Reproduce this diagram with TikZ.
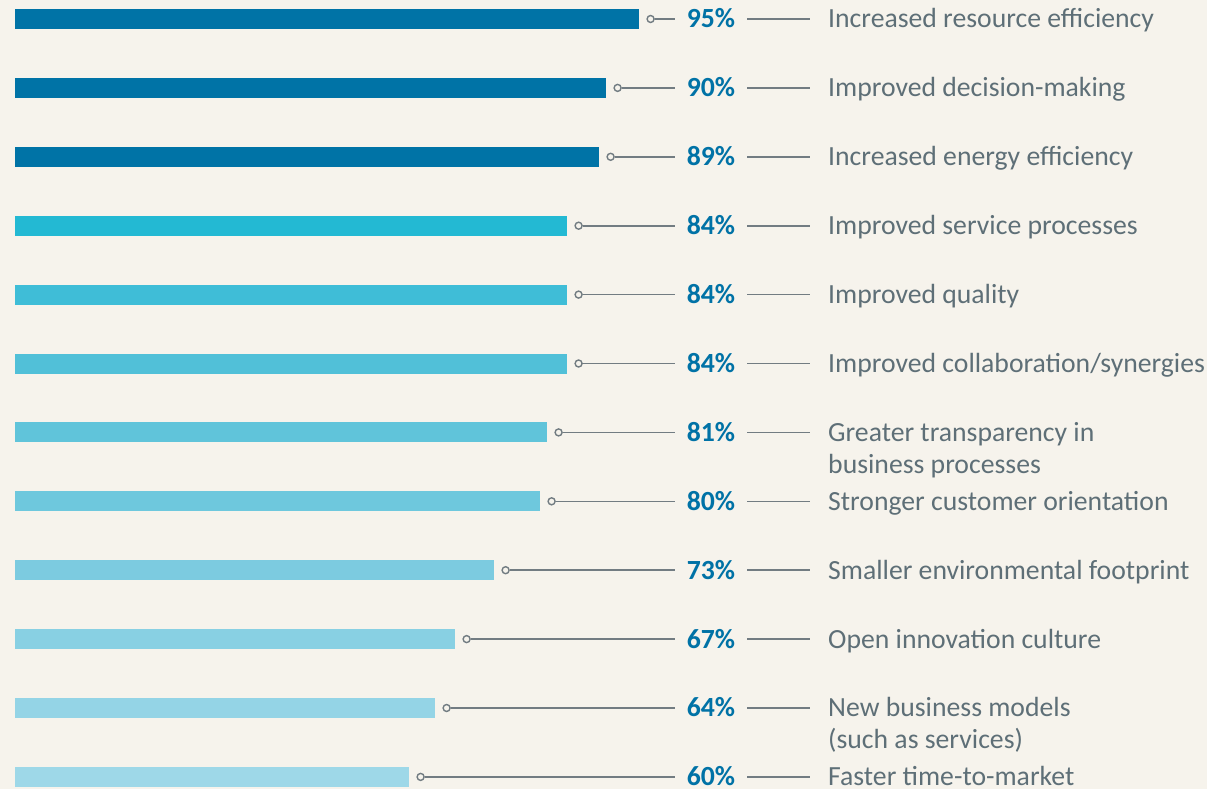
\documentclass[tikz,border=0pt]{standalone}
\usepackage{fontspec}
\setmainfont{Carlito}
\usetikzlibrary{positioning}

\definecolor{bgcream}{HTML}{F6F3EC}
\definecolor{linegray}{HTML}{727C82}
\definecolor{labelgray}{HTML}{5E6F77}
\definecolor{pctblue}{HTML}{0072A6}
\definecolor{barA}{HTML}{0073A6}
\definecolor{barB}{HTML}{23B9D3}
\definecolor{barC}{HTML}{3FBDD7}
\definecolor{barD}{HTML}{51C0D8}
\definecolor{barE}{HTML}{60C4DA}
\definecolor{barF}{HTML}{6EC8DD}
\definecolor{barG}{HTML}{7CCBE0}
\definecolor{barH}{HTML}{88D0E3}
\definecolor{barI}{HTML}{94D4E6}
\definecolor{barJ}{HTML}{9ED8E8}

\begin{document}
\begin{tikzpicture}[
  x=1pt, y=-1pt,
  bar/.style={rectangle, anchor=west, minimum height=20pt, inner sep=0pt},
  dot/.style={circle, draw=linegray, fill=bgcream, line width=1.4pt, minimum size=7pt, inner sep=0pt},
  pct/.style={font=\fontsize{27.7}{34}\selectfont\bfseries, text=pctblue, text height=17.8pt, text depth=0pt, inner xsep=12pt, inner ysep=0pt},
  lbl/.style={font=\fontsize{27.7}{34}\selectfont, text=labelgray, anchor=west, text height=17.8pt, text depth=0pt, inner xsep=18pt, inner ysep=0pt},
  lead/.style={draw=linegray, line width=1.6pt}
]

% --- Background and frame ---
\fill[bgcream] (0,0) rectangle (1207,789);
\useasboundingbox (0,0) rectangle (1207,789);

% --- Bars ---
\node[bar, fill=barA, minimum width=624pt] (b1) at (15,19) {};
\node[bar, fill=barA, minimum width=591pt] (b2) at (15,87.9) {};
\node[bar, fill=barA, minimum width=584pt] (b3) at (15,156.8) {};
\node[bar, fill=barB, minimum width=552pt] (b4) at (15,225.7) {};
\node[bar, fill=barC, minimum width=552pt] (b5) at (15,294.6) {};
\node[bar, fill=barD, minimum width=552pt] (b6) at (15,363.5) {};
\node[bar, fill=barE, minimum width=532pt] (b7) at (15,432.4) {};
\node[bar, fill=barF, minimum width=525pt] (b8) at (15,501.3) {};
\node[bar, fill=barG, minimum width=479pt] (b9) at (15,570.2) {};
\node[bar, fill=barH, minimum width=440pt] (b10) at (15,639.1) {};
\node[bar, fill=barI, minimum width=420pt] (b11) at (15,708) {};
\node[bar, fill=barJ, minimum width=394pt] (b12) at (15,776.9) {};

% --- Dots at bar ends ---
\node[dot, right=7pt of b1] (d1) {};
\node[dot, right=7pt of b2] (d2) {};
\node[dot, right=7pt of b3] (d3) {};
\node[dot, right=7pt of b4] (d4) {};
\node[dot, right=7pt of b5] (d5) {};
\node[dot, right=7pt of b6] (d6) {};
\node[dot, right=7pt of b7] (d7) {};
\node[dot, right=7pt of b8] (d8) {};
\node[dot, right=7pt of b9] (d9) {};
\node[dot, right=7pt of b10] (d10) {};
\node[dot, right=7pt of b11] (d11) {};
\node[dot, right=7pt of b12] (d12) {};

% --- Percentages ---
\node[pct] (p1) at (711,19) {95\%};
\node[pct] (p2) at (711,87.9) {90\%};
\node[pct] (p3) at (711,156.8) {89\%};
\node[pct] (p4) at (711,225.7) {84\%};
\node[pct] (p5) at (711,294.6) {84\%};
\node[pct] (p6) at (711,363.5) {84\%};
\node[pct] (p7) at (711,432.4) {81\%};
\node[pct] (p8) at (711,501.3) {80\%};
\node[pct] (p9) at (711,570.2) {73\%};
\node[pct] (p10) at (711,639.1) {67\%};
\node[pct] (p11) at (711,708) {64\%};
\node[pct] (p12) at (711,776.9) {60\%};

% --- Labels ---
\node[lbl] (l1) at (810,19) {Increased resource efficiency};
\node[lbl] (l2) at (810,87.9) {Improved decision-making};
\node[lbl] (l3) at (810,156.8) {Increased energy efficiency};
\node[lbl] (l4) at (810,225.7) {Improved service processes};
\node[lbl] (l5) at (810,294.6) {Improved quality};
\node[lbl] (l6) at (810,363.5) {Improved collaboration/synergies};
\node[lbl] (l7) at (810,432.4) {Greater transparency in};
\node[lbl, anchor=base west] (l7b) at ([yshift=-32pt]l7.base west) {business processes};
\node[lbl] (l8) at (810,501.3) {Stronger customer orientation};
\node[lbl] (l9) at (810,570.2) {Smaller environmental footprint};
\node[lbl] (l10) at (810,639.1) {Open innovation culture};
\node[lbl] (l11) at (810,708) {New business models};
\node[lbl, anchor=base west] (l11b) at ([yshift=-32pt]l11.base west) {(such as services)};
\node[lbl] (l12) at (810,776.9) {Faster time-to-market};

% --- Leader lines ---
\draw[lead] (d1) -- (p1);  \draw[lead] (p1) -- (l1);
\draw[lead] (d2) -- (p2);  \draw[lead] (p2) -- (l2);
\draw[lead] (d3) -- (p3);  \draw[lead] (p3) -- (l3);
\draw[lead] (d4) -- (p4);  \draw[lead] (p4) -- (l4);
\draw[lead] (d5) -- (p5);  \draw[lead] (p5) -- (l5);
\draw[lead] (d6) -- (p6);  \draw[lead] (p6) -- (l6);
\draw[lead] (d7) -- (p7);  \draw[lead] (p7) -- (l7);
\draw[lead] (d8) -- (p8);  \draw[lead] (p8) -- (l8);
\draw[lead] (d9) -- (p9);  \draw[lead] (p9) -- (l9);
\draw[lead] (d10) -- (p10);  \draw[lead] (p10) -- (l10);
\draw[lead] (d11) -- (p11);  \draw[lead] (p11) -- (l11);
\draw[lead] (d12) -- (p12);  \draw[lead] (p12) -- (l12);

\end{tikzpicture}
\end{document}
